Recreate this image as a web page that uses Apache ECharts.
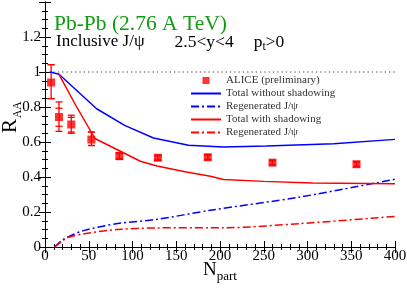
<!DOCTYPE html>
<html><head><meta charset="utf-8">
<script src="https://cdn.jsdelivr.net/npm/echarts@6/dist/echarts.min.js"></script>
<style>html,body{margin:0;padding:0;background:#fff}#c{width:407px;height:289px}</style>
</head><body><div id="c"></div>
<script>
// ALICE data: Npart, RAA, stat low/high, sys low/high
const aliceNpart = [7, 16, 30, 53, 85, 129, 186, 260, 356];
const aliceRaa   = [0.94, 0.743, 0.70, 0.614, 0.52, 0.51, 0.513, 0.482, 0.473];
const aliceStatLo = [0.848, 0.69, 0.657, 0.58, 0.50, 0.495, 0.498, 0.468, 0.458];
const aliceStatHi = [1.042, 0.793, 0.741, 0.657, 0.54, 0.525, 0.528, 0.496, 0.488];
const aliceSysLo  = [0.848, 0.661, 0.65, 0.58, 0.505, 0.498, 0.50, 0.47, 0.46];
const aliceSysHi  = [1.042, 0.829, 0.753, 0.657, 0.535, 0.522, 0.526, 0.494, 0.486];

const totNoShadowX = [6, 16, 59, 91, 124, 164, 204, 253, 330, 400];
const totNoShadowY = [1.0, 0.987, 0.79, 0.695, 0.623, 0.581, 0.571, 0.577, 0.59, 0.615];

const regenNoShadowX = [11, 20, 26, 45, 83, 128, 189, 292, 400];
const regenNoShadowY = [0, 0.04, 0.057, 0.095, 0.134, 0.158, 0.21, 0.286, 0.387];

const totShadowX = [16, 34, 57, 85, 109, 128, 160, 189, 204, 250, 306, 400];
const totShadowY = [0.987, 0.82, 0.62, 0.55, 0.49, 0.463, 0.43, 0.404, 0.386, 0.375, 0.366, 0.362];

const regenShadowX = [11, 20, 26, 45, 83, 128, 189, 204, 292, 400];
const regenShadowY = [0, 0.035, 0.054, 0.076, 0.10, 0.109, 0.11, 0.11, 0.134, 0.175];

const refLineX = [0, 400];
const refLineY = [1, 1];

const legendNames = ['ALICE (preliminary)', 'Total without shadowing', 'Regenerated J/\u03c8', 'Total with shadowing', 'Regenerated J/\u03c8 '];

const FONT = '"Liberation Serif", "DejaVu Serif", serif';
const zip = (a, b) => a.map((v, i) => [v, b[i]]);

const chart = echarts.init(document.getElementById('c'), null, {renderer: 'canvas'});

function axisCommon(showLabel) {
  return {
    axisLine: {show: true, lineStyle: {color: '#000', width: 1}},
    axisTick: {show: true, inside: true, length: 6, lineStyle: {color: '#000'}},
    minorTick: {show: true, length: 3, lineStyle: {color: '#000'}},
    splitLine: {show: false},
    axisLabel: {show: showLabel, color: '#000', fontFamily: FONT, fontSize: 15},
  };
}

const hideSym = {opacity: 0, borderWidth: 0};

const option = {
  animation: false,
  title: [
    {text: 'Pb-Pb (2.76 A TeV)', left: 54, top: 13, padding: 0,
     textStyle: {color: '#139a13', fontFamily: FONT, fontSize: 21.5, fontWeight: 'normal'}},
    {text: '{a|Inclusive J/\u03c8}{b|2.5<y<4}{p|p}{s|t}{c|>0}', left: 56, top: 31, padding: 0,
     textStyle: {fontFamily: FONT, fontSize: 17, fontWeight: 'normal', color: '#000',
       rich: {
         a: {fontFamily: FONT, fontSize: 17, color: '#000'},
         b: {fontFamily: FONT, fontSize: 17.5, color: '#000', padding: [0, 0, 0, 30]},
         p: {fontFamily: FONT, fontSize: 17.5, color: '#000', padding: [0, 0, 0, 20]},
         c: {fontFamily: FONT, fontSize: 17.5, color: '#000'},
         s: {fontFamily: FONT, fontSize: 12, color: '#000', padding: [10, 0, 0, 0]}
       }}}
  ],
  graphic: [
    {type: 'text', x: 21, y: 133, rotation: Math.PI / 2, silent: true,
     style: {text: 'R', fontFamily: FONT, fontSize: 21, fill: '#000', align: 'left', verticalAlign: 'bottom'}},
    {type: 'text', x: 23.5, y: 118, rotation: Math.PI / 2, silent: true,
     style: {text: 'AA', fontFamily: FONT, fontSize: 11.5, fill: '#000', align: 'left', verticalAlign: 'bottom'}}
  ],
  legend: {
    orient: 'vertical', left: 190, top: 75, padding: 0, itemWidth: 30, itemHeight: 7, itemGap: 2,
    data: [
      {name: legendNames[0], icon: 'path://M0,0H10V10H0Z'},
      {name: legendNames[1], itemStyle: hideSym},
      {name: legendNames[2], itemStyle: hideSym},
      {name: legendNames[3], itemStyle: hideSym},
      {name: legendNames[4], itemStyle: hideSym}
    ],
    textStyle: {fontFamily: FONT, fontSize: 11, lineHeight: 11, color: '#333', padding: [0, 0, 0, 0]},
    selectedMode: false
  },
  grid: {left: 45, right: 12, top: 2, bottom: 42, outerBoundsMode: 'none', containLabel: false},
  xAxis: [
    Object.assign(axisCommon(true), {type: 'value', min: 0, max: 400, interval: 50,
      minorTick: {show: true, splitNumber: 5, length: 3, lineStyle: {color: '#000'}},
      axisLabel: {show: true, color: '#000', fontFamily: FONT, fontSize: 15, margin: 2},
      name: '{n|N}{s|part}', nameLocation: 'middle', nameGap: 11, nameMoveOverlap: false,
      nameTextStyle: {rich: {
        n: {fontFamily: FONT, fontSize: 19, color: '#000'},
        s: {fontFamily: FONT, fontSize: 13, color: '#000', padding: [12, 0, 0, 0]}
      }}}),
    Object.assign(axisCommon(false), {type: 'value', min: 0, max: 400, interval: 50, position: 'top',
      minorTick: {show: true, splitNumber: 5, length: 3, lineStyle: {color: '#000'}}})
  ],
  yAxis: [
    Object.assign(axisCommon(true), {type: 'value', min: 0, max: 1.4, interval: 0.2,
      minorTick: {show: true, splitNumber: 4, length: 3, lineStyle: {color: '#000'}},
      axisLabel: {show: true, color: '#000', fontFamily: FONT, fontSize: 15, margin: 4, showMaxLabel: false}}),
    Object.assign(axisCommon(false), {type: 'value', min: 0, max: 1.4, interval: 0.2, position: 'right',
      minorTick: {show: true, splitNumber: 4, length: 3, lineStyle: {color: '#000'}}})
  ],
  series: [
    {name: 'ref', type: 'line', data: zip(refLineX, refLineY), symbol: 'none', silent: true,
     lineStyle: {color: '#444', width: 1.2, type: [1.3, 3]}, z: 1},
    {name: legendNames[1], type: 'line', data: zip(totNoShadowX, totNoShadowY), symbol: 'none',
     lineStyle: {color: '#0000ff', width: 1.5}, itemStyle: {color: '#0000ff'}},
    {name: legendNames[2], type: 'line', data: zip(regenNoShadowX, regenNoShadowY), symbol: 'none', smooth: 0.3,
     lineStyle: {color: '#0000ff', width: 1.5, type: [8, 3, 2, 3]}, itemStyle: {color: '#0000ff'}},
    {name: legendNames[3], type: 'line', data: zip(totShadowX, totShadowY), symbol: 'none',
     lineStyle: {color: '#ff0000', width: 1.5}, itemStyle: {color: '#ff0000'}},
    {name: legendNames[4], type: 'line', data: zip(regenShadowX, regenShadowY), symbol: 'none', smooth: 0.3,
     lineStyle: {color: '#ff0000', width: 1.5, type: [8, 3, 2, 3]}, itemStyle: {color: '#ff0000'}},
    {name: 'errors', type: 'custom',
     data: aliceNpart.map((x, i) => [x, aliceStatLo[i], aliceStatHi[i], aliceSysLo[i], aliceSysHi[i]]),
     renderItem: function (params, api) {
       const x = api.value(0);
       const pLo = api.coord([x, api.value(1)]);
       const pHi = api.coord([x, api.value(2)]);
       const sLo = api.coord([x, api.value(3)]);
       const sHi = api.coord([x, api.value(4)]);
       const w = 3.5;
       const st = {stroke: '#ff0000', lineWidth: 1.3};
       const line = (x1, y1, x2, y2) => ({type: 'line', shape: {x1, y1, x2, y2}, style: st});
       return {type: 'group', children: [
         line(pLo[0], Math.max(pLo[1], sLo[1]), pHi[0], Math.min(pHi[1], sHi[1])),
         line(pLo[0] - w, pLo[1], pLo[0] + w, pLo[1]),
         line(pHi[0] - w, pHi[1], pHi[0] + w, pHi[1]),
         line(sLo[0] - w, sLo[1], sLo[0] + w, sLo[1]),
         line(sHi[0] - w, sHi[1], sHi[0] + w, sHi[1])
       ]};
     }, z: 3},
    {name: legendNames[0], type: 'scatter', data: zip(aliceNpart, aliceRaa), symbol: 'rect', symbolSize: 8,
     itemStyle: {color: '#ff0000'}, z: 4}
  ]
};
chart.setOption(option);
</script></body></html>
